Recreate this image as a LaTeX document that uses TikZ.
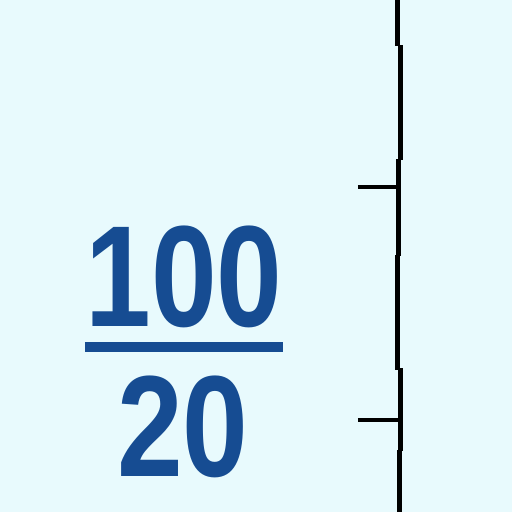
\documentclass[tikz,border=0pt]{standalone}
\usepackage{fontspec}
\setmainfont{Liberation Sans}[FakeStretch=0.82]
\usepackage{xcolor}
\definecolor{fondo}{RGB}{232,250,253}
\definecolor{azul}{RGB}{22,76,146}
\tikzset{
  cifra/.style={text=azul,font=\bfseries\fontsize{82pt}{90pt}\selectfont,inner sep=0pt,anchor=base},
  barra/.style={azul,line width=0.19cm},
  regla/.style={black,line width=0.1cm},
  marca/.style={black,line width=0.085cm}
}
\begin{document}
\begin{tikzpicture}[x=0.02cm,y=-0.02cm]
\fill[fondo] (0,0) rectangle (512,512);
\useasboundingbox (0,0) rectangle (512,512);
% fraccion
\node[cifra] (num) at (184,326) {100};
\node[cifra] (den) at (183,476) {20};
\draw[barra] (85,347)--(283,347);
% regla vertical
\draw[regla] (398,-2)--(398,46) (401,45)--(401,160) (399,159)--(399,256) (398,255)--(398,370) (401,368)--(401,451) (400,450)--(400,514);
\foreach \y in {187,420}{
  \draw[marca] (358,\y)--(400,\y);}
\end{tikzpicture}
\end{document}
